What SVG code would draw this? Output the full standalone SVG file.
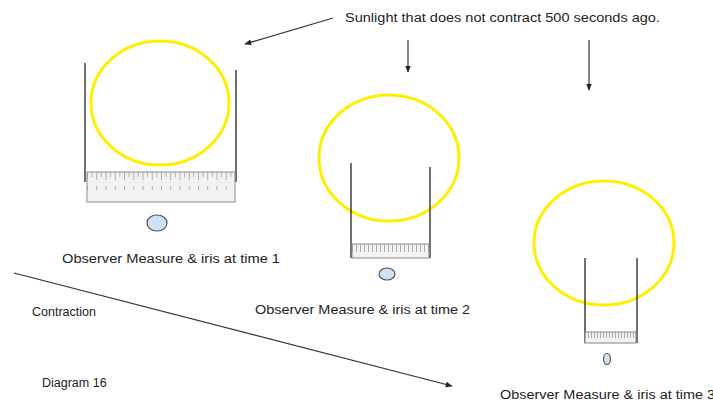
<svg xmlns="http://www.w3.org/2000/svg" width="713" height="403" viewBox="0 0 713 403">
<style>
  text { font-family: "Liberation Sans", Arial, sans-serif; font-size: 12.5px; fill: #222; }
  .sun { fill: none; stroke: #ffee00; stroke-width: 3; }
  .wall { stroke: #333; stroke-width: 1.4; fill: none; }
  .ruler { fill: #f2f2f2; stroke: #888; stroke-width: 1; }
  .tick { stroke: #999; stroke-width: 0.8; }
  .iris { fill: #cfe2f3; stroke: #555; stroke-width: 1.2; }
  .conn { stroke: #333; stroke-width: 1.2; fill: none; marker-end: url(#ah); }
</style>
<defs>
  <marker id="ah" viewBox="0 0 10 10" refX="9" refY="5" markerWidth="7" markerHeight="7" markerUnits="userSpaceOnUse" orient="auto">
    <path d="M0,1 L10,5 L0,9 Z" fill="#222"/>
  </marker>
  <pattern id="ticks1" x="87" y="172" width="9.25" height="30" patternUnits="userSpaceOnUse">
    <line x1="0.5" y1="0" x2="0.5" y2="8" class="tick"/>
    <line x1="5" y1="0" x2="5" y2="5" class="tick"/>
    <line x1="0.5" y1="14" x2="0.5" y2="18" class="tick"/>
  </pattern>
  <pattern id="ticks2" x="352" y="244" width="4" height="14" patternUnits="userSpaceOnUse">
    <line x1="0.5" y1="0" x2="0.5" y2="8" class="tick"/>
  </pattern>
  <pattern id="ticks3" x="585" y="332" width="3" height="11" patternUnits="userSpaceOnUse">
    <line x1="0.5" y1="0" x2="0.5" y2="6" class="tick"/>
  </pattern>
</defs>

<g id="title">
  <text x="345" y="22" textLength="315" lengthAdjust="spacingAndGlyphs">Sunlight that does not contract 500 seconds ago.</text>
</g>

<g id="scene1">
  <ellipse class="sun" cx="160" cy="103" rx="69" ry="62"/>
  <line class="wall" x1="85" y1="63" x2="85" y2="182"/>
  <line class="wall" x1="236" y1="70" x2="236" y2="182"/>
  <rect class="ruler" x="87" y="172" width="148" height="30"/>
  <rect x="87" y="172" width="148" height="30" fill="url(#ticks1)" stroke="none"/>
  <ellipse class="iris" cx="157" cy="223" rx="10" ry="8"/>
  <text x="62" y="263" textLength="218" lengthAdjust="spacingAndGlyphs">Observer Measure &amp; iris at time 1</text>
</g>

<g id="scene2">
  <ellipse class="sun" cx="389" cy="158" rx="70" ry="63"/>
  <line class="wall" x1="351" y1="163" x2="351" y2="258"/>
  <line class="wall" x1="430" y1="167" x2="430" y2="258"/>
  <rect class="ruler" x="352" y="244" width="77" height="14"/>
  <rect x="352" y="244" width="77" height="14" fill="url(#ticks2)" stroke="none"/>
  <ellipse class="iris" cx="387" cy="274" rx="8" ry="6"/>
  <text x="255" y="314" textLength="215" lengthAdjust="spacingAndGlyphs">Observer Measure &amp; iris at time 2</text>
</g>

<g id="scene3">
  <ellipse class="sun" cx="604" cy="243" rx="70" ry="62"/>
  <line class="wall" x1="585" y1="258" x2="585" y2="343"/>
  <line class="wall" x1="637" y1="258" x2="637" y2="343"/>
  <rect class="ruler" x="585" y="332" width="51" height="11"/>
  <rect x="585" y="332" width="51" height="11" fill="url(#ticks3)" stroke="none"/>
  <ellipse class="iris" cx="607" cy="359" rx="3.5" ry="5.5"/>
  <text x="500" y="399" textLength="215" lengthAdjust="spacingAndGlyphs">Observer Measure &amp; iris at time 3</text>
</g>

<g id="labels">
  <text x="32" y="316">Contraction</text>
  <text x="42" y="387">Diagram 16</text>
</g>

<g id="connectors">
  <line class="conn" x1="333" y1="18" x2="245" y2="44"/>
  <line class="conn" x1="408" y1="40" x2="408" y2="72"/>
  <line class="conn" x1="589" y1="40" x2="589" y2="90"/>
  <line class="conn" x1="14" y1="273" x2="452" y2="386"/>
</g>
</svg>
